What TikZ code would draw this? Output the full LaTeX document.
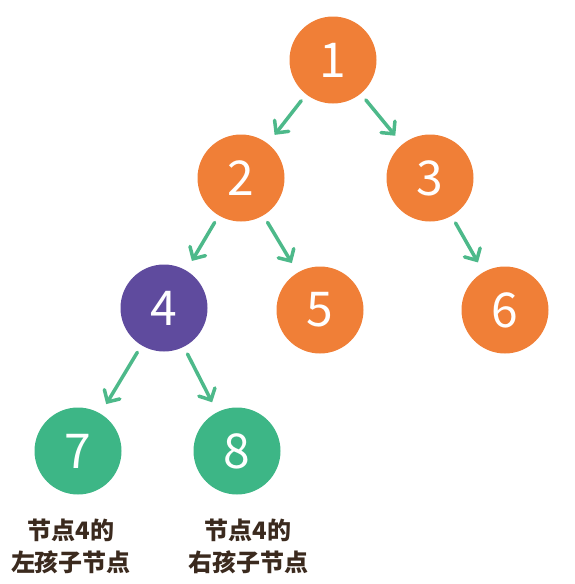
\documentclass[tikz,border=0pt]{standalone}
\usepackage{fontspec}
\setmainfont{Noto Sans CJK SC}
\newfontfamily\cjk{Noto Sans CJK SC}
\usetikzlibrary{arrows.meta,positioning}
\definecolor{treeorange}{HTML}{F07F37}
\definecolor{treepurple}{HTML}{5F4B9E}
\definecolor{treegreen}{HTML}{3DB686}
\definecolor{arrowgreen}{HTML}{4DB98A}
\definecolor{labelbrown}{HTML}{3B2A1E}

\begin{document}
\begin{tikzpicture}[x=1pt,y=-1pt,
  main node/.style={circle,fill=treeorange,minimum size=87pt,inner sep=0pt,text=white,font=\fontsize{48}{48}\selectfont},
  purple node/.style={main node,fill=treepurple},
  green node/.style={main node,fill=treegreen},
  tree edge/.style={draw=arrowgreen,line width=3.5pt,line cap=round,-{Straight Barb[length=9pt,width=18pt,line cap=round]},shorten <=8pt,shorten >=11pt},
  note/.style={align=center,text=labelbrown,font=\cjk\fontsize{24}{32}\selectfont\bfseries}]
\useasboundingbox (0,0) rectangle (574,584);
\begin{scope}
\node[main node] (v1) at (333,60) {1};
\node[main node] (v2) at (241,178) {2};
\node[main node] (v3) at (430,178) {3};
\node[purple node] (v4) at (164,308) {4};
\node[main node] (v5) at (320,310) {5};
\node[main node] (v6) at (505,310) {6};
\node[green node] (v7) at (78,451) {7};
\node[green node] (v8) at (237,451) {8};
\end{scope}
\node[note] (left note) at (71,546) {节点4的\\左孩子节点};
\node[note] (right note) at (248,546) {节点4的\\右孩子节点};
\begin{scope}[every path/.style={tree edge}]
\draw (v1) -- (v2);
\draw (v1) -- (v3);
\draw (v2) -- (v4);
\draw (v2) -- (v5);
\draw (v3) -- (v6);
\draw (v4) -- (v7);
\draw (v4) -- (v8);
\end{scope}
\end{tikzpicture}
\end{document}
